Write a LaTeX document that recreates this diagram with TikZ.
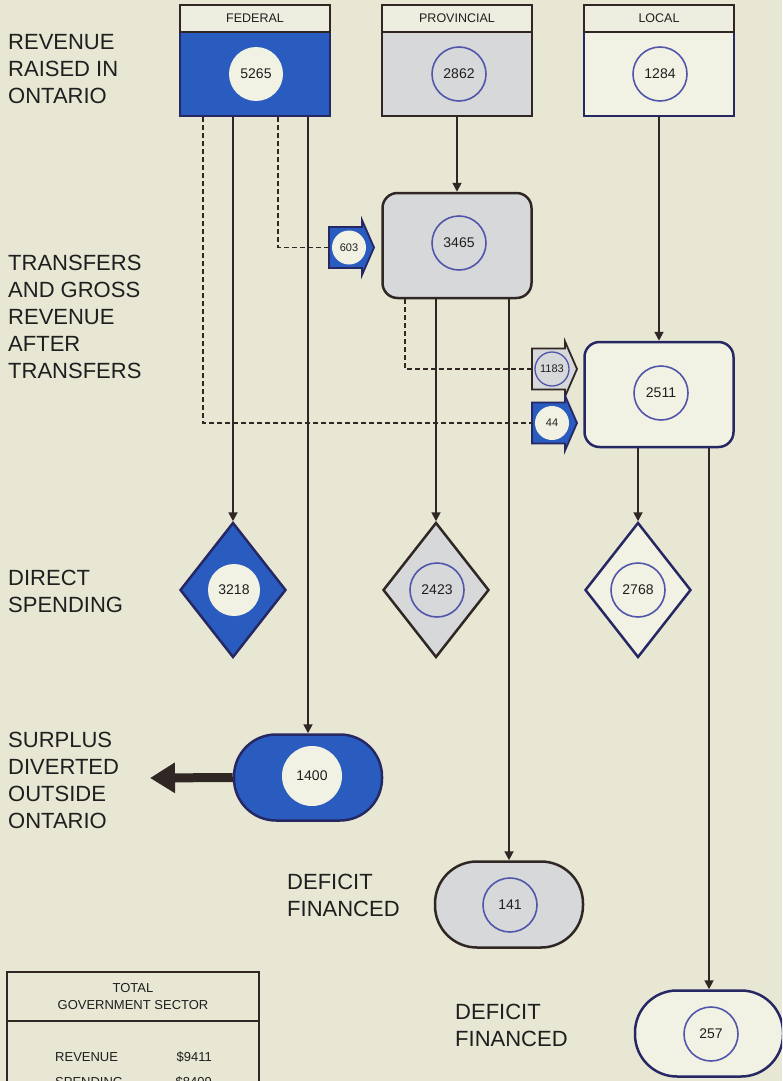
\documentclass[tikz,border=0pt]{standalone}
\usepackage{fontspec}
\setmainfont{Liberation Sans}
\usetikzlibrary{arrows.meta,shapes.geometric}
\definecolor{bg}{RGB}{231,231,212}
\definecolor{fblue}{RGB}{42,92,192}
\definecolor{pgray}{RGB}{214,216,218}
\definecolor{ink}{RGB}{48,38,36}
\definecolor{txt}{RGB}{32,30,30}
\definecolor{navy}{RGB}{38,40,100}
\definecolor{cblue}{RGB}{82,86,170}
\definecolor{paper}{RGB}{242,242,228}
\definecolor{hdr}{RGB}{238,238,224}
\tikzset{
  lbl/.style={anchor=north west, inner sep=0pt, align=left, font=\fontsize{22}{27}\selectfont, text=txt},
  hdrbox/.style={draw=ink, line width=2.2pt, fill=hdr, minimum width=150pt, minimum height=27pt, inner sep=0pt, text=txt, font=\fontsize{12.5}{14}\selectfont},
  bodybox/.style={line width=2.5pt, minimum width=150pt, minimum height=84pt, inner sep=0pt},
  bigc/.style={circle, minimum size=54pt, inner sep=0pt, text=txt, font=\fontsize{14}{16}\selectfont},
  smallc/.style={circle, minimum size=34pt, inner sep=0pt, text=txt, font=\fontsize{11}{13}\selectfont},
  rbox/.style={rectangle, rounded corners=15pt, line width=2.5pt, minimum width=149pt, minimum height=105pt, inner sep=0pt},
  dia/.style={diamond, aspect=0.785, line width=2.5pt, minimum width=106pt, minimum height=135pt, inner sep=0pt},
  pill/.style={rectangle, rounded corners=42pt, line width=2.5pt, minimum width=148pt, minimum height=86pt, inner sep=0pt},
  flow/.style={draw=ink, line width=1.8pt, -{Triangle[width=9pt,length=9pt]}},
  dashline/.style={draw=ink, line width=1.8pt, dash pattern=on 5pt off 3pt},
  tbltxt/.style={inner sep=0pt, text=txt, font=\fontsize{13}{17}\selectfont},
}
\newcommand{\xferarrow}[3]{%
  \filldraw[fill=#2, draw=#3, line width=1.8pt, line join=miter] (#1) ++(0,-20.5) -- ++(33,0) -- ++(0,-7) -- ++(12,27.5) -- ++(-12,27.5) -- ++(0,-7) -- ++(-33,0) -- cycle;}
\begin{document}
\begin{tikzpicture}[x=1pt,y=-1pt]
\useasboundingbox (0,0) rectangle (782,1081);
\clip (0,0) rectangle (782,1081);
\fill[bg] (0,0) rectangle (782,1081);

% left labels
\node[lbl] (lab1) at (8,34) {REVENUE\\RAISED IN\\ONTARIO};
\node[lbl] (lab2) at (8,255) {TRANSFERS\\AND GROSS\\REVENUE\\AFTER\\TRANSFERS};
\node[lbl] (lab3) at (8,570) {DIRECT\\SPENDING};
\node[lbl] (lab4) at (8,732) {SURPLUS\\DIVERTED\\OUTSIDE\\ONTARIO};
\node[lbl] (lab5) at (287,874) {DEFICIT\\FINANCED};
\node[lbl] (lab6) at (455,1004) {DEFICIT\\FINANCED};

% top boxes
\node[bodybox, draw=navy, fill=fblue] (fedb) at (255,74) {};
\node[hdrbox] (fedh) at (255,18.5) {FEDERAL};
\node[bigc, fill=paper] (c5265) at (256,74) {5265};

\node[bodybox, draw=ink, fill=pgray] (provb) at (457,74) {};
\node[hdrbox] (provh) at (457,18.5) {PROVINCIAL};
\node[bigc, draw=cblue, line width=1.6pt, fill=pgray] (c2862) at (459,74) {2862};

\node[bodybox, draw=navy, fill=paper] (locb) at (659,74) {};
\node[hdrbox] (loch) at (659,18.5) {LOCAL};
\node[bigc, draw=cblue, line width=1.6pt, fill=paper] (c1284) at (660,74) {1284};

% transfer level boxes
\node[rbox, draw=ink, fill=pgray] (b3465) at (457,245.5) {};
\node[bigc, draw=cblue, line width=1.6pt, fill=pgray] (c3465) at (459,243) {3465};
\node[rbox, draw=navy, fill=paper] (b2511) at (659,394.5) {};
\node[bigc, draw=cblue, line width=1.6pt, fill=paper] (c2511) at (661,393) {2511};

% transfer arrows
\coordinate (a603) at (329,247.5);
\xferarrow{a603}{fblue}{navy}
\node[smallc, fill=paper] (c603) at (349,247.5) {603};
\coordinate (a1183) at (532,369);
\xferarrow{a1183}{pgray}{ink}
\node[smallc, draw=cblue, line width=1.3pt, fill=pgray] (c1183) at (552,369) {1183};
\coordinate (a44) at (532,423);
\xferarrow{a44}{fblue}{navy}
\node[smallc, fill=paper] (c44) at (552,423) {44};

% diamonds
\node[dia, draw=navy, fill=fblue] (d1) at (233,590) {};
\node[bigc, fill=paper, minimum size=52pt] (c3218) at (234,590) {3218};
\node[dia, draw=ink, fill=pgray] (d2) at (436,590) {};
\node[bigc, draw=cblue, line width=1.6pt, fill=pgray] (c2423) at (437,590) {2423};
\node[dia, draw=navy, fill=paper] (d3) at (638,590) {};
\node[bigc, draw=cblue, line width=1.6pt, fill=paper] (c2768) at (638,590) {2768};

% pills
\node[pill, draw=navy, fill=fblue] (p1) at (308,777.5) {};
\node[bigc, fill=paper, minimum size=60pt] (c1400) at (312,776) {1400};
\node[pill, draw=ink, fill=pgray] (p2) at (509,904.5) {};
\node[bigc, draw=cblue, line width=1.6pt, fill=pgray] (c141) at (510,905) {141};
\node[pill, draw=navy, fill=paper] (p3) at (709,1033.5) {};
\node[bigc, draw=cblue, line width=1.6pt, fill=paper] (c257) at (711,1034) {257};

% surplus arrow
\coordinate (s1) at (150,778);
\draw[draw=ink, line width=9pt, -{Triangle[width=29pt,length=25pt]}] (p1.west) -- (s1);

% connectors: federal
\coordinate (k3) at (203,423);
\draw[dashline] (fedb.south -| k3) -- (k3) -- (a44);
\coordinate (k1) at (278,247.5);
\draw[dashline] (fedb.south -| k1) -- (k1) -- (a603);
\draw[flow] (fedb.south -| d1.north) -- (d1.north);
\draw[flow] (fedb.south -| p1.north) -- (p1.north);

% provincial
\draw[flow] (provb.south) -- (b3465.north);
\coordinate (k2) at (405,369);
\draw[dashline] (b3465.south -| k2) -- (k2) -- (a1183);
\draw[flow] (b3465.south -| d2.north) -- (d2.north);
\draw[flow] (b3465.south -| p2.north) -- (p2.north);

% local
\draw[flow] (locb.south) -- (b2511.north);
\draw[flow] (b2511.south -| d3.north) -- (d3.north);
\draw[flow] (b2511.south -| p3.north) -- (p3.north);

% total table
\draw[ink, line width=1.5pt] (7,1100) -- (7,972) -- (259,972) -- (259,1100);
\draw[ink, line width=1.5pt] (7,1021) -- (259,1021);
\node[tbltxt, align=center, anchor=north] (ttl) at (133,983) {TOTAL\\GOVERNMENT SECTOR};
\node[tbltxt, anchor=base west] (rev) at (55,1061) {REVENUE};
\node[tbltxt, anchor=base east] (revv) at (212,1061) {\$9411};
\node[tbltxt, anchor=base west] (spd) at (55,1086.5) {SPENDING};
\node[tbltxt, anchor=base east] (spdv) at (212,1086.5) {\$8409};
\end{tikzpicture}
\end{document}
